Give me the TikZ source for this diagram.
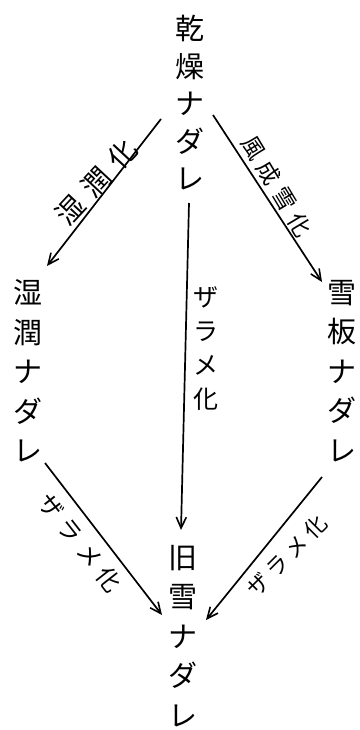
\documentclass[tikz,border=0pt]{standalone}
\usepackage{fontspec}
\newfontfamily\jp{Noto Sans CJK JP}
\usetikzlibrary{arrows.meta}
\begin{document}
\begin{tikzpicture}[x=1pt,y=-1pt,
  vtext/.style={font=\jp\fontsize{29}{39.5}\selectfont, align=center, inner sep=0pt},
  vtextT/.style={font=\jp\fontsize{29}{37.5}\selectfont, align=center, inner sep=0pt},
  lab/.style={font=\jp\fontsize{#1}{#1}\selectfont, inner sep=0pt},
  arr/.style={line width=1.7pt, -{Straight Barb[length=11pt,width=10pt,line width=1.6pt]}}]
\useasboundingbox (0,0) rectangle (359,730);
% nodes
\node[vtextT] (top) at (190,103) {乾\\燥\\ナ\\ダ\\レ};
\node[vtext] (left) at (28,371) {湿\\潤\\ナ\\ダ\\レ};
\node[vtext] (right) at (342,371) {雪\\板\\ナ\\ダ\\レ};
\node[vtext] (bottom) at (183,636) {旧\\雪\\ナ\\ダ\\レ};
% connector end points next to the nodes
\coordinate (tl) at (161,119);
\coordinate (lt) at (47,266);
\coordinate (tr) at (213,115);
\coordinate (rt) at (322,282);
\coordinate (tc) at (189,203);
\coordinate (bc) at (181,530);
\coordinate (lb) at (45,463);
\coordinate (bl) at (162,615);
\coordinate (rb) at (322,477);
\coordinate (br) at (206,620);
% connectors
\draw[arr] (tl) -- (lt);
\draw[arr] (tr) -- (rt);
\draw[arr] (tc) -- (bc);
\draw[arr] (lb) -- (bl);
\draw[arr] (rb) -- (br);
% labels
\node[lab=28, rotate=47] (l1) at (96,182) {湿\kern10pt 潤\kern10pt 化};
\node[lab=23, rotate=-59] (l2) at (277,186) {風\kern7pt 成\kern7pt 雪\kern7pt 化};
\node[font=\jp\fontsize{25}{34}\selectfont, align=center, inner sep=0pt] (l3) at (206,349) {ザ\\ラ\\メ\\化};
\node[lab=24, rotate=-52] (l4) at (80,543) {ザ\kern7pt ラ\kern7pt メ\kern7pt 化};
\node[lab=22, rotate=45] (l5) at (287,556) {ザ\kern5pt ラ\kern5pt メ\kern5pt 化};
\end{tikzpicture}
\end{document}
